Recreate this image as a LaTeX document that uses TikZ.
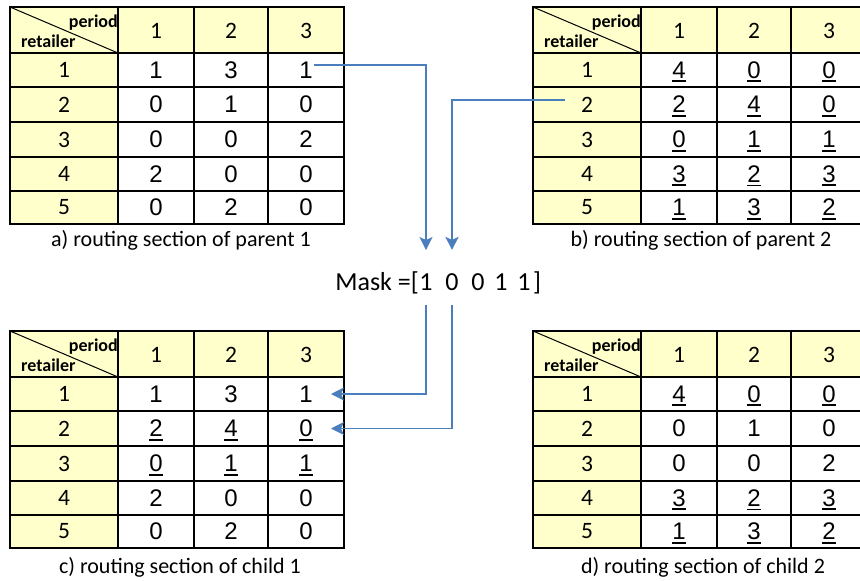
\documentclass[tikz,border=0pt]{standalone}
\usepackage{fontspec}
\setmainfont{Carlito}[Numbers=Lining]
\newfontfamily\arialf{Liberation Sans}
\usetikzlibrary{arrows.meta}

\definecolor{hdr}{RGB}{255,255,204}
\definecolor{linkblue}{RGB}{74,126,188}

% underlined digit; the rule does not change the box size
\newcommand\udig[1]{\setbox0=\hbox{#1}\rlap{\raisebox{0pt}[0pt][0pt]{\rule[-4pt]{\wd0}{1.8pt}}}\box0}

\tikzset{
  grid/.style={draw=black, line width=2pt},
  diag/.style={draw=black, line width=1pt},
  corner/.style={inner sep=0pt, font=\bfseries\fontsize{18}{20}\selectfont},
  hnum/.style={inner sep=0pt, font=\fontsize{23.5}{26}\selectfont},
  val/.style={inner sep=0pt, font=\arialf\fontsize{24}{27}\selectfont},
  capt/.style={inner sep=0pt, anchor=base, font=\fontsize{22}{26}\selectfont},
  masktxt/.style={inner sep=0pt, anchor=base, font=\fontsize{26}{30}\selectfont},
  link/.style={draw=linkblue, line width=1.7pt},
  linkarrow/.style={link, -{Stealth[length=13pt,width=13pt,inset=3pt]}},
}

% #1 name, #2 left, #3 top, #4 rows of values a/b/c
\newcommand\drawtable[4]{%
  \begin{scope}[shift={(#2,#3)}]
    \fill[hdr] (0,0) rectangle (334,46);
    \fill[hdr] (0,46) rectangle (108,217);
    \fill[white] (108,46) rectangle (334,217);
    \foreach \gx in {108,184,258} \draw[grid] (\gx,0) -- (\gx,217);
    \foreach \gy in {46,80,115,150,184} \draw[grid] (0,\gy) -- (334,\gy);
    \draw[grid] (0,0) rectangle (334,217);
    \draw[diag] (0,0) -- (108,46);
    \node[corner, anchor=base east] (#1-per) at (108,20) {period};
    \node[corner, anchor=base west] (#1-ret) at (11,40) {retailer};
    \foreach \c/\cx in {1/146,2/221,3/296}
      \node[hnum] (#1-0-\c) at (\cx,23.5) {\c};
    \foreach [count=\r] \va/\vb/\vc in {#4} {
      \pgfmathsetmacro\cy{{63,97.5,132.5,167,200.5}[\r-1]}
      \node[hnum] (#1-\r-0) at (54,\cy) {\r};
      \node[val] (#1-\r-1) at (146,\cy) {\va};
      \node[val] (#1-\r-2) at (221,\cy) {\vb};
      \node[val] (#1-\r-3) at (296,\cy) {\vc};
    }
  \end{scope}}

\begin{document}
\begin{tikzpicture}[x=1pt,y=-1pt]
  \useasboundingbox (0,0) rectangle (860,581);
  \clip (0,0) rectangle (860,581);

  % parents
  \drawtable{a}{10}{7}{1/3/1, 0/1/0, 0/0/2, 2/0/0, 0/2/0}
  \drawtable{b}{533}{7}{\udig{4}/\udig{0}/\udig{0}, \udig{2}/\udig{4}/\udig{0},
    \udig{0}/\udig{1}/\udig{1}, \udig{3}/\udig{2}/\udig{3}, \udig{1}/\udig{3}/\udig{2}}
  % children
  \drawtable{c}{10}{331}{1/3/1, \udig{2}/\udig{4}/\udig{0}, \udig{0}/\udig{1}/\udig{1}, 2/0/0, 0/2/0}
  \drawtable{d}{533}{331}{\udig{4}/\udig{0}/\udig{0}, 0/1/0, 0/0/2,
    \udig{3}/\udig{2}/\udig{3}, \udig{1}/\udig{3}/\udig{2}}

  % captions
  \node[capt] (capa) at (181,246) {a) routing section of parent 1};
  \node[capt] (capb) at (701,246) {b) routing section of parent 2};
  \node[capt] (capc) at (180,573) {c) routing section of child 1};
  \node[capt] (capd) at (703,573) {d) routing section of child 2};

  % mask vector
  \node[masktxt, anchor=base east] (mlab) at (419,290) {Mask =[};
  \node[masktxt] (m1) at (426,290) {1};
  \node[masktxt] (m2) at (452,290) {0};
  \node[masktxt] (m3) at (478,290) {0};
  \node[masktxt] (m4) at (501,290) {1};
  \node[masktxt] (m5) at (524,290) {1};
  \node[masktxt] (mend) at (537,290) {]};

  \coordinate (m1in) at ([yshift=23pt]m1.north);
  \coordinate (m2in) at ([yshift=23pt]m2.north);

  % genes taken from the parents
  \draw[linkarrow] ([xshift=1pt,yshift=5pt]a-1-3.east) -| (m1in);
  \draw[linkarrow] ([xshift=-22pt,yshift=4.5pt]b-2-0.center) -| (m2in);

  % genes passed on to child 1
  \draw[linkarrow] ([yshift=-15pt]m1.south) |- ([xshift=25pt]c-1-3.center);
  \draw[linkarrow] ([yshift=-15pt]m2.south) |- ([xshift=25pt]c-2-3.center);
\end{tikzpicture}
\end{document}
